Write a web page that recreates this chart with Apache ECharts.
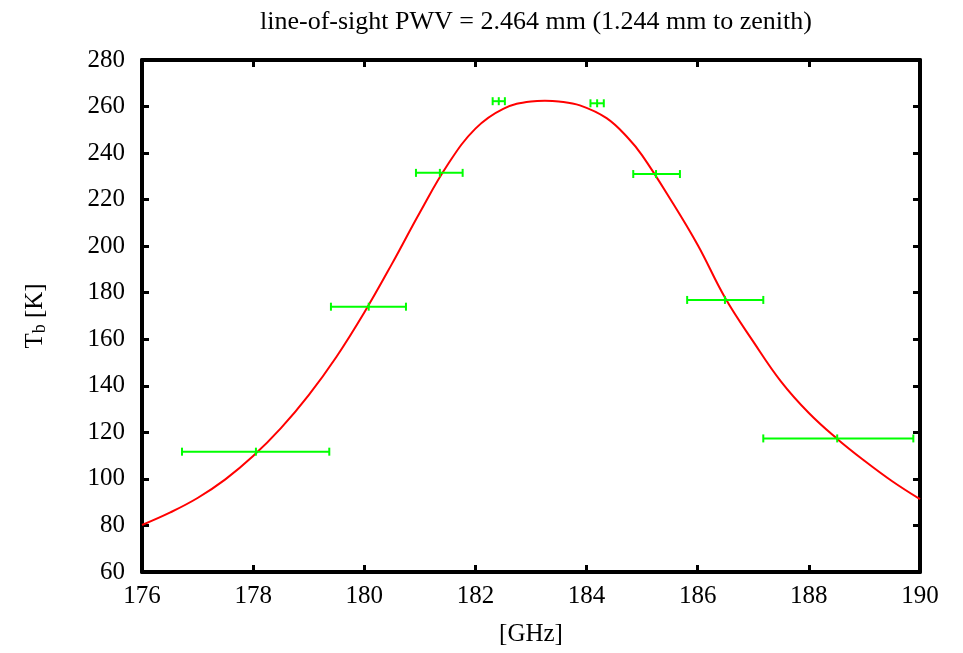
<!DOCTYPE html>
<html><head><meta charset="utf-8">
<script src="https://cdn.jsdelivr.net/npm/echarts@6/dist/echarts.min.js"></script>
<style>html,body{margin:0;padding:0;background:#fff}#c{width:963px;height:653px}</style>
</head><body><div id="c"></div>
<script>
// model curve
var curveFreq = [176.0,176.5,177.0,177.5,178.0,178.5,179.0,179.5,180.0,180.5,181.0,181.5,182.0,182.5,183.0,183.25,183.5,183.88,184.36,184.75,185.0,185.5,186.0,186.5,187.0,187.5,188.0,188.5,189.0,189.5,190.0];
var curveTb   = [80.2,85.5,91.8,99.8,109.8,121.8,136.0,152.5,171.5,192.5,214.5,235.0,250.5,259.0,262.2,262.5,262.2,260.5,255.0,246.4,239.0,220.5,200.5,177.5,159.0,141.8,128.3,117.4,107.8,99.0,91.3];
// measured points with horizontal error bars
var ptFreq = [178.05,180.08,181.36,182.42,184.19,185.25,186.49,188.51];
var ptTb   = [111.7,174.0,231.5,262.3,261.4,231.0,176.9,117.4];
var ptLow  = [176.72,179.40,180.93,182.31,184.07,184.84,185.81,187.18];
var ptHigh = [179.37,180.75,181.77,182.53,184.31,185.68,187.18,189.88];

var xTicks = [176,178,180,182,184,186,188,190];
var yTicks = [60,80,100,120,140,160,180,200,220,240,260,280];

var font = 'Liberation Serif';
var fs = 25;
var chart = echarts.init(document.getElementById('c'), null, {renderer:'canvas'});
var curve = curveFreq.map(function(f,i){return [f,curveTb[i]];});
var errData = ptFreq.map(function(f,i){return [f,ptTb[i],ptLow[i],ptHigh[i]];});

var axisCommon = {
  axisLine:{show:true,onZero:false,lineStyle:{color:'#000',width:4}},
  axisTick:{show:true,inside:true,length:7,lineStyle:{color:'#000',width:3}},
  splitLine:{show:false}
};
chart.setOption({
  animation:false,
  title:{text:'line-of-sight PWV = 2.464 mm (1.244 mm to zenith)',left:531,top:4,textAlign:'center',
    textStyle:{fontFamily:font,fontSize:26,fontWeight:'normal',color:'#000'}},
  grid:{left:142,right:43,top:60,bottom:81,containLabel:false},
  xAxis:[
    Object.assign({type:'value',min:176,max:190,interval:xTicks[1]-xTicks[0],position:'bottom',
      name:'[GHz]',nameLocation:'middle',nameGap:50,
      nameTextStyle:{fontFamily:font,fontSize:fs,color:'#000'},
      axisLabel:{fontFamily:font,fontSize:fs,color:'#000',margin:12}},axisCommon),
    Object.assign({type:'value',min:176,max:190,interval:2,position:'top',axisLabel:{show:false}},axisCommon)
  ],
  yAxis:[
    Object.assign({type:'value',min:yTicks[0],max:yTicks[yTicks.length-1],interval:20,position:'left',
      name:'{t|T}{s|b}{t| [K]}',nameLocation:'middle',nameGap:93,nameRotate:90,
      nameTextStyle:{fontFamily:font,fontSize:fs,color:'#000',
        rich:{t:{fontFamily:font,fontSize:fs,color:'#000'},s:{fontFamily:font,fontSize:18,color:'#000',padding:[10,0,0,0]}}},
      axisLabel:{fontFamily:font,fontSize:fs,color:'#000',margin:17}},axisCommon),
    Object.assign({type:'value',min:60,max:280,interval:20,position:'right',axisLabel:{show:false}},axisCommon)
  ],
  series:[
    {type:'line',data:curve,smooth:0.4,showSymbol:false,lineStyle:{color:'#ff0000',width:2},z:2},
    {type:'custom',data:errData,z:3,
      renderItem:function(params,api){
        var c=api.coord([api.value(0),api.value(1)]);
        var l=api.coord([api.value(2),api.value(1)]);
        var h=api.coord([api.value(3),api.value(1)]);
        var cap=4;
        var st={stroke:'#00ff00',lineWidth:2};
        return {type:'group',children:[
          {type:'line',shape:{x1:l[0],y1:l[1],x2:h[0],y2:h[1]},style:st},
          {type:'line',shape:{x1:l[0],y1:l[1]-cap,x2:l[0],y2:l[1]+cap},style:st},
          {type:'line',shape:{x1:h[0],y1:h[1]-cap,x2:h[0],y2:h[1]+cap},style:st},
          {type:'line',shape:{x1:c[0],y1:c[1]-cap,x2:c[0],y2:c[1]+cap},style:st}
        ]};
      }}
  ]
});
</script></body></html>
